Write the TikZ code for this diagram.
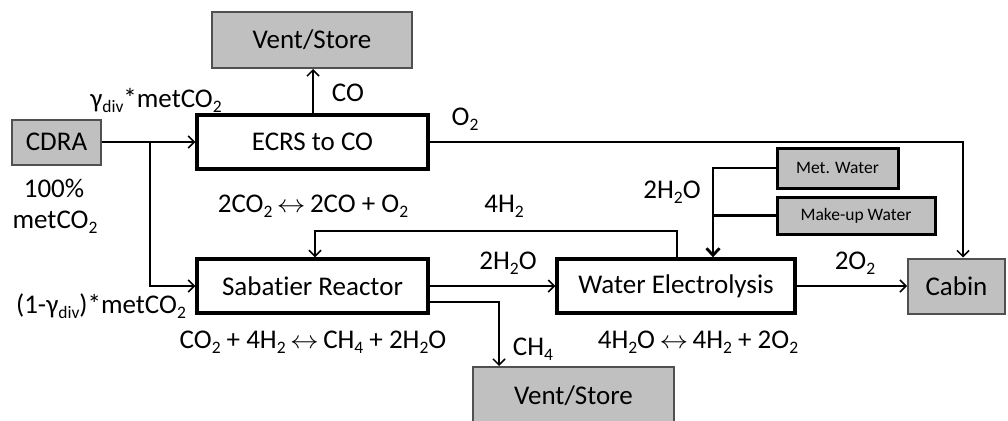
\documentclass[tikz,border=0pt]{standalone}
\usepackage{fontspec}
\setmainfont{Carlito}[Ligatures=NoCommon]
\usetikzlibrary{arrows.meta}
\definecolor{boxgrey}{HTML}{C0C0C0}
\definecolor{edgegrey}{HTML}{505050}
\newcommand{\sbs}[1]{\raisebox{-0.2em}{\fontsize{17.5}{18}\selectfont #1}}
\newcommand{\lra}{\,\scalebox{1.15}[1]{$\leftrightarrow$}\,}
\begin{document}
\begin{tikzpicture}[x=1pt,y=-1pt,
  every node/.style={font=\fontsize{27}{32}\selectfont, inner sep=0pt},
  procbox/.style={draw=black, line width=3.4pt, fill=white, minimum height=54pt},
  termbox/.style={draw=edgegrey, line width=2pt, fill=boxgrey},
  srcbox/.style={draw=black, line width=3pt, fill=boxgrey, font=\fontsize{17.5}{20}\selectfont},
  flow/.style={line width=1.5pt, -{Straight Barb[length=6pt,width=12pt,line width=1.5pt]}},
  thickflow/.style={line width=2.8pt, -{Straight Barb[length=7pt,width=13pt,line width=2.8pt]}},
  lbl/.style={anchor=base}
]
\useasboundingbox (0,0) rectangle (1008,420);
% boxes
\node[termbox, minimum width=200pt, minimum height=56pt] (vtop) at (312,40) {Vent/Store};
\node[termbox, minimum width=89pt, minimum height=45pt] (cdra) at (56.5,142) {CDRA};
\node[procbox, minimum width=231pt] (ecrs) at (312.5,142) {ECRS to CO};
\node[procbox, minimum width=231pt] (sab) at (312.5,286) {Sabatier Reactor};
\node[procbox, minimum width=238pt] (we) at (676,286) {Water Electrolysis};
\node[termbox, minimum width=97pt, minimum height=55pt] (cabin) at (956.5,286) {Cabin};
\node[termbox, minimum width=201pt, minimum height=57pt] (vbot) at (573.5,395.5) {Vent/Store};
\node[srcbox, minimum width=121pt, minimum height=40pt] (met) at (837.5,168) {Met. Water};
\node[srcbox, minimum width=158pt, minimum height=37pt] (mkw) at (856,215.5) {Make-up Water};
% coordinates
\coordinate (split) at (150,142);
\coordinate (o2c) at (963,142);
\coordinate (h2r) at (677,231);
\coordinate (h2l) at (315,231);
\coordinate (wj) at (713,168);
\coordinate (ch4c) at (499,302);
% connectors
\draw[flow] (cdra.east) -- (ecrs.west);
\draw[flow] (split) |- (sab.west);
\draw[flow] (ecrs.north -| 313,0) -- (vtop.south -| 313,0);
\draw[flow] (ecrs.east) -- (o2c) -- (cabin.north -| o2c);
\draw[flow] (sab.east) -- (we.west);
\draw[flow] (we.east) -- (cabin.west);
\draw[flow] (sab.east |- ch4c) -- (ch4c) -- (vbot.north -| ch4c);
\draw[flow] (we.north -| h2r) -- (h2r) -- (h2l) -- (sab.north -| h2l);
\draw[thickflow] (met.west) -- (wj) -- (we.north -| wj);
\draw[line width=2.8pt] (mkw.west) -- (mkw.west -| wj);
% labels
\node[lbl] (l1) at (156,107) {γ\sbs{div}*metCO\sbs{2}};
\node[lbl] (l2) at (348,101) {CO};
\node[lbl] (l3) at (465,125) {O\sbs{2}};
\node[lbl] (l4) at (54,197) {100\%};
\node[lbl] (l5) at (55,228) {metCO\sbs{2}};
\node[lbl] (l6) at (313,212) {2CO\sbs{2}\lra 2CO + O\sbs{2}};
\node[lbl] (l7) at (504,212) {4H\sbs{2}};
\node[lbl] (l8) at (672,198) {2H\sbs{2}O};
\node[lbl] (l9) at (508,269) {2H\sbs{2}O};
\node[lbl] (l10) at (855,269) {2O\sbs{2}};
\node[lbl] (l11) at (101,313) {(1-γ\sbs{div})*metCO\sbs{2}};
\node[lbl] (l12) at (313,348) {CO\sbs{2} + 4H\sbs{2}\lra CH\sbs{4} + 2H\sbs{2}O};
\node[lbl] (l13) at (533,355) {CH\sbs{4}};
\node[lbl] (l14) at (698,348) {4H\sbs{2}O\lra 4H\sbs{2} + 2O\sbs{2}};
\end{tikzpicture}
\end{document}
